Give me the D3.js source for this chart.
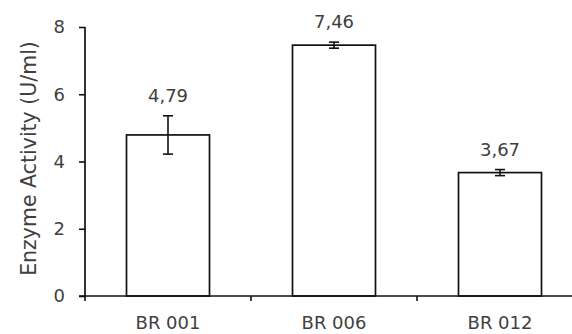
<!DOCTYPE html>
<html>
<head>
<meta charset="utf-8">
<script src="https://cdn.jsdelivr.net/npm/d3@7"></script>
<style>
  body { margin: 0; background: #fff; }
  text { font-family: "DejaVu Sans", sans-serif; fill: #3f3f3f; }
</style>
</head>
<body>
<div id="chart"></div>
<script>
// data
var categories = ["BR 001", "BR 006", "BR 012"];
var values = [4.79, 7.46, 3.67];
var errors = [0.57, 0.09, 0.09];
var labels = ["4,79", "7,46", "3,67"];
var yTicks = [0, 2, 4, 6, 8];

var W = 572, H = 334;
var margin = {top: 27, right: -11, bottom: 38, left: 85};
var width = W - margin.left - margin.right,
    height = H - margin.top - margin.bottom;

var svg = d3.select("#chart").append("svg")
  .attr("width", W).attr("height", H)
  .append("g")
  .attr("transform", "translate(" + margin.left + "," + margin.top + ")");

var x = d3.scaleBand().domain(categories).range([0, width]).paddingInner(0.5).paddingOuter(0.25);
var y = d3.scaleLinear().domain([0, 8]).range([height, 0]);

// bars
svg.selectAll(".bar").data(values).enter().append("rect")
  .attr("x", function(d, i) { return x(categories[i]); })
  .attr("y", function(d) { return y(d); })
  .attr("width", x.bandwidth())
  .attr("height", function(d) { return y(0) - y(d); })
  .style("fill", "#fff")
  .style("stroke", "#111")
  .style("stroke-width", 1.7);

// error bars
var eb = svg.selectAll(".err").data(values).enter().append("g")
  .attr("transform", function(d, i) { return "translate(" + (x(categories[i]) + x.bandwidth() / 2) + ",0)"; });
eb.append("line")
  .attr("y1", function(d, i) { return y(d + errors[i]); })
  .attr("y2", function(d, i) { return y(d - errors[i]); })
  .style("stroke", "#111").style("stroke-width", 1.6);
eb.append("line").attr("x1", -5).attr("x2", 5)
  .attr("y1", function(d, i) { return y(d + errors[i]); })
  .attr("y2", function(d, i) { return y(d + errors[i]); })
  .style("stroke", "#111").style("stroke-width", 1.6);
eb.append("line").attr("x1", -5).attr("x2", 5)
  .attr("y1", function(d, i) { return y(d - errors[i]); })
  .attr("y2", function(d, i) { return y(d - errors[i]); })
  .style("stroke", "#111").style("stroke-width", 1.6);

// value labels
svg.selectAll(".lbl").data(values).enter().append("text")
  .attr("x", function(d, i) { return x(categories[i]) + x.bandwidth() / 2; })
  .attr("y", function(d, i) { return y(d + errors[i]) - 14; })
  .attr("text-anchor", "middle")
  .style("font-size", "18px")
  .text(function(d, i) { return labels[i]; });

// y axis
var yAxis = svg.append("g")
  .call(d3.axisLeft(y).tickValues(yTicks).tickSize(6).tickPadding(14).tickFormat(d3.format("d")));
yAxis.select(".domain").style("stroke", "#111").style("stroke-width", 1.7).attr("d", "M0," + height + "V0");
yAxis.selectAll(".tick line").style("stroke", "#111").style("stroke-width", 1.6);
yAxis.selectAll(".tick text").style("font-size", "18px").style("font-family", "DejaVu Sans").style("fill", "#3f3f3f");

// x axis
var xAxis = svg.append("g").attr("transform", "translate(0," + height + ")")
  .call(d3.axisBottom(x).tickSize(0).tickPadding(20));
xAxis.select(".domain").style("stroke", "#111").style("stroke-width", 1.7).attr("d", "M-6,0H" + width);
xAxis.selectAll(".tick text").style("font-size", "18px").style("font-family", "DejaVu Sans").style("fill", "#3f3f3f");
// category boundary ticks
var step = x.step();
svg.selectAll(".bt").data(d3.range(categories.length)).enter().append("line")
  .attr("x1", function(i) { return x(categories[i]) - x.paddingOuter() * step; })
  .attr("x2", function(i) { return x(categories[i]) - x.paddingOuter() * step; })
  .attr("y1", height).attr("y2", height + 5)
  .style("stroke", "#111").style("stroke-width", 1.6);

// y title
svg.append("text")
  .attr("transform", "translate(" + (-56) + "," + (height / 2 - 3) + ") rotate(-90)")
  .attr("dy", "0.35em")
  .attr("text-anchor", "middle")
  .style("font-size", "20.5px")
  .text("Enzyme Activity (U/ml)");
</script>
</body>
</html>
